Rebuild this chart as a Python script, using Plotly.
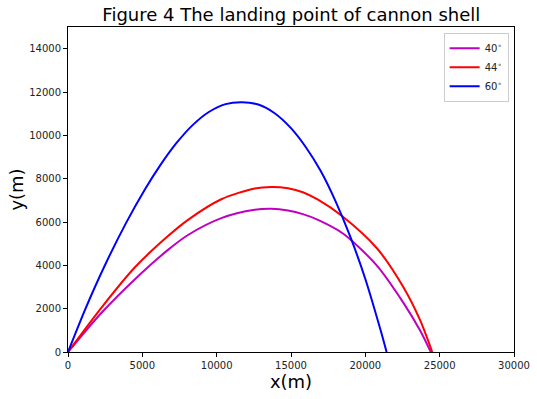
import plotly.graph_objects as go

# Trajectories (x in m, y in m)
x40 = [0, 2240, 4487, 6726, 8071, 10312, 12558, 13675, 14798, 15800, 16816, 18518, 20764, 22553, 23677, 24400]
y40 = [0, 1800, 3350, 4713, 5400, 6178, 6561, 6607, 6529, 6363, 6099, 5460, 4000, 2280, 1000, 0]

x44 = [0, 2240, 4487, 6726, 8071, 10312, 12558, 13675, 14798, 15800, 16816, 18410, 20764, 22553, 23677, 24500]
y44 = [0, 2040, 3900, 5350, 6100, 7050, 7550, 7620, 7560, 7375, 7030, 6290, 4800, 3000, 1479, 0]

x60 = [0, 1200, 2500, 3900, 5200, 6200, 7300, 8400, 9500, 10600, 11700,
       12800, 13900, 15000, 16000, 17000, 18000, 19000, 20000, 21000, 21430]
y60 = [0, 2040, 4029, 5947, 7533, 8613, 9647, 10483, 11088, 11440, 11528,
       11420, 11020, 10330, 9450, 8350, 6952, 5300, 3370, 1070, 0]

names = ["40<sup>∘</sup>", "44<sup>∘</sup>", "60<sup>∘</sup>"]
colors = ["#bf00bf", "#ff0000", "#0000ff"]

x_ticks = [0, 5000, 10000, 15000, 20000, 25000, 30000]
y_ticks = [0, 2000, 4000, 6000, 8000, 10000, 12000, 14000]

fig = go.Figure()
for xs, ys, nm, c in zip([x40, x44, x60], [y40, y44, y60], names, colors):
    fig.add_trace(go.Scatter(x=xs, y=ys, mode="lines", name=nm,
                             line=dict(color=c, width=2, shape="spline", smoothing=0.8)))

axis_common = dict(showgrid=False, zeroline=False, showline=True, linecolor="black",
                   linewidth=1, mirror=True, ticks="outside", ticklen=4, tickcolor="black",
                   automargin=False,
                   tickfont=dict(family="DejaVu Sans", size=10, color="#222"))

fig.update_layout(
    width=537, height=399,
    margin=dict(l=68, r=23, t=27, b=47),
    paper_bgcolor="white", plot_bgcolor="white",
    title=dict(text="Figure 4 The landing point of cannon shell", x=0.5425, xanchor="center",
               y=0.962, yanchor="middle", automargin=False,
               font=dict(family="DejaVu Sans", size=18, color="black")),
    xaxis=dict(range=[0, 30000], tickvals=x_ticks, ticktext=[str(v) for v in x_ticks],
               title=dict(text="x(m)", font=dict(family="DejaVu Sans", size=18, color="black"), standoff=4),
               **axis_common),
    yaxis=dict(range=[0, 15000], tickvals=y_ticks, ticktext=[str(v) for v in y_ticks],
               title=dict(text="y(m)", font=dict(family="DejaVu Sans", size=18, color="black"), standoff=0),
               **axis_common),
    legend=dict(x=0.988, y=0.982, xanchor="right", yanchor="top",
                bgcolor="white", bordercolor="#cccccc", borderwidth=1,
                font=dict(family="DejaVu Sans", size=10, color="#222"),
                itemwidth=30, tracegroupgap=0),
    showlegend=True,
)

fig.write_html("out.html", config={"displayModeBar": False},
               post_script="document.body.style.margin='0';")
